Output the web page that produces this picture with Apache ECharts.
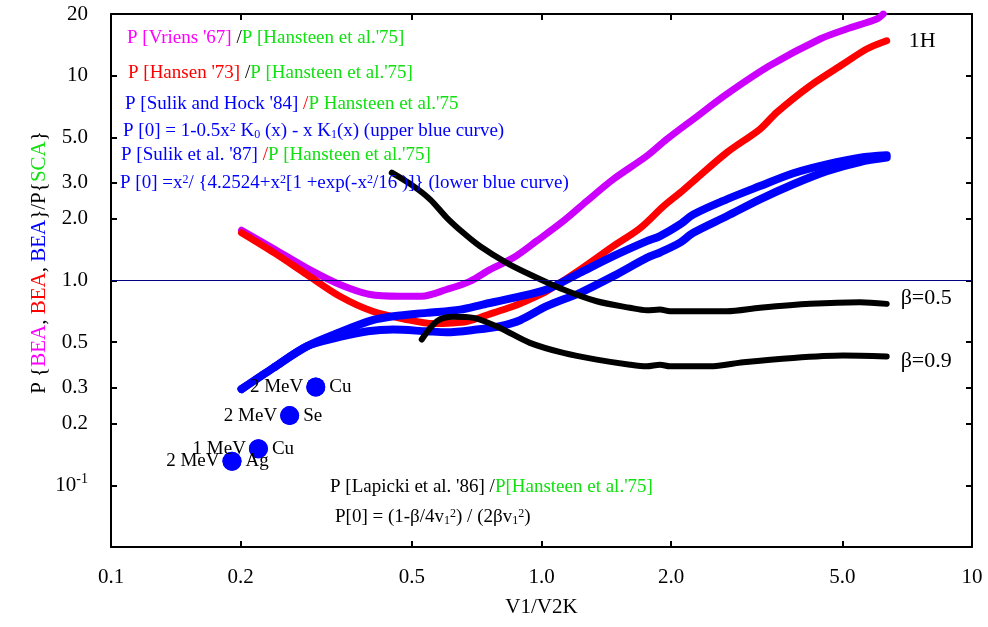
<!DOCTYPE html>
<html>
<head>
<meta charset="utf-8">
<title>P{BEA}/P{SCA} vs V1/V2K</title>
<script src="https://cdn.jsdelivr.net/npm/echarts@6/dist/echarts.min.js"></script>
<style>
  html, body { margin: 0; padding: 0; background: #fff; }
  #chart { width: 988px; height: 627px; }
</style>
</head>
<body>
<div id="chart"></div>
<script>
  // tick positions and their labels
  var xTicks = [0.1, 0.2, 0.5, 1, 2, 5, 10];
  var xTickText = ['0.1', '0.2', '0.5', '1.0', '2.0', '5.0', '10'];
  var yTicks = [0.1, 0.2, 0.3, 0.5, 1, 2, 3, 5, 10, 20];
  var yTickText = ['{n|10}{s|-1}', '0.2', '0.3', '0.5', '1.0', '2.0', '3.0', '5.0', '10', '20'];

  // curves: [V1/V2K, ratio]
  var vriens = [[0.201, 1.76], [0.240, 1.42], [0.285, 1.15], [0.340, 0.956], [0.400, 0.854], [0.469, 0.838],
    [0.527, 0.838], [0.602, 0.904], [0.682, 0.99], [0.759, 1.13], [0.860, 1.29], [0.975, 1.56], [1.124, 1.95],
    [1.274, 2.44], [1.468, 3.12], [1.756, 4.05], [1.954, 4.89], [2.252, 6.13], [2.693, 8.12], [3.394, 11.2],
    [4.436, 15.1], [5.115, 16.9], [6.006, 18.9], [6.22, 20]];
  var hansen = [[0.201, 1.71], [0.240, 1.36], [0.285, 1.07], [0.340, 0.838], [0.405, 0.708], [0.486, 0.645],
    [0.561, 0.616], [0.620, 0.62], [0.670, 0.63], [0.720, 0.66], [0.773, 0.695], [0.860, 0.749], [0.940, 0.81],
    [1.028, 0.887], [1.229, 1.13], [1.468, 1.47], [1.694, 1.80], [1.919, 2.30], [2.098, 2.68], [2.252, 3.05],
    [2.693, 4.21], [3.217, 5.48], [3.518, 6.61], [4.205, 8.92], [5.023, 11.4], [5.693, 13.5], [6.336, 14.8]];
  var sulikHock = [[0.201, 0.295], [0.238, 0.374], [0.285, 0.477], [0.340, 0.559], [0.405, 0.640], [0.453, 0.669],
    [0.541, 0.695], [0.647, 0.721], [0.730, 0.763], [0.860, 0.823], [1.028, 0.904], [1.229, 1.091], [1.468, 1.315],
    [1.756, 1.557], [1.885, 1.647], [2.098, 1.878], [2.252, 2.10], [2.693, 2.49], [3.217, 2.89], [3.845, 3.34],
    [4.598, 3.69], [5.493, 3.98], [6.336, 4.09]];
  var sulik87 = [[0.201, 0.295], [0.238, 0.374], [0.285, 0.477], [0.340, 0.530], [0.395, 0.565], [0.453, 0.576],
    [0.541, 0.565], [0.602, 0.559], [0.707, 0.576], [0.801, 0.598], [0.892, 0.64], [1.028, 0.749], [1.229, 0.871],
    [1.468, 1.05], [1.756, 1.29], [1.885, 1.37], [2.098, 1.53], [2.252, 1.71], [2.693, 2.06], [3.217, 2.49],
    [3.845, 2.95], [4.598, 3.42], [5.493, 3.79], [6.336, 3.98]];
  var beta05 = [[0.449, 3.36], [0.504, 2.89], [0.551, 2.49], [0.602, 2.03], [0.658, 1.71], [0.720, 1.47],
    [0.830, 1.22], [0.940, 1.07], [1.124, 0.904], [1.344, 0.792], [1.605, 0.736], [1.756, 0.716], [1.885, 0.721],
    [1.988, 0.708], [2.693, 0.708], [3.217, 0.736], [4.205, 0.769], [5.493, 0.783], [6.336, 0.769]];
  var beta09 = [[0.527, 0.515], [0.571, 0.632], [0.624, 0.665], [0.695, 0.657], [0.801, 0.587], [0.940, 0.496],
    [1.124, 0.443], [1.344, 0.411], [1.605, 0.388], [1.756, 0.381], [1.885, 0.388], [1.988, 0.381], [2.463, 0.381],
    [2.943, 0.399], [3.845, 0.419], [5.023, 0.430], [6.336, 0.426]];

  // measured points
  var dotPoints = [[0.299, 0.302], [0.260, 0.219], [0.220, 0.151], [0.191, 0.131]];
  var dotEnergy = ['2 MeV', '2 MeV', '1 MeV', '2 MeV'];
  var dotTarget = ['Cu', 'Se', 'Cu', 'Ag'];

  var serif = '"Liberation Serif", "Times New Roman", serif';

  function pick(ticks, texts, v) {
    var best = 0;
    for (var i = 1; i < ticks.length; i++) {
      if (Math.abs(Math.log(ticks[i] / v)) < Math.abs(Math.log(ticks[best] / v))) best = i;
    }
    return texts[best];
  }

  // graphic texts are plain zrender styles, so colours go in "fill"
  function tok(color) {
    return { fill: color, fontFamily: serif, fontSize: 19, lineHeight: 24 };
  }
  function sup(color) {
    return { fill: color, fontFamily: serif, fontSize: 12, lineHeight: 12, verticalAlign: 'top' };
  }
  function sub(color) {
    return { fill: color, fontFamily: serif, fontSize: 12, lineHeight: 12, verticalAlign: 'bottom' };
  }
  var noteRich = {
    m: tok('#ff00ff'), r: tok('#ff0000'), g: tok('#11e011'), b: tok('#0000ff'), k: tok('#000'),
    bp: sup('#0000ff'), bd: sub('#0000ff'), kp: sup('#000'), kd: sub('#000')
  };

  // legend-like notes written on the plot
  function note(x, y, text, fill) {
    return {
      type: 'text', x: x, y: y, z: 20, silent: true,
      style: { text: text, rich: noteRich, fill: fill || '#000', font: '19px ' + serif, verticalAlign: 'middle' }
    };
  }

  function curve(name, data, color, width) {
    return {
      name: name, type: 'line', data: data, symbol: 'none', smooth: 0.3, silent: true,
      lineStyle: { color: color, width: width, cap: 'round', join: 'round' }
    };
  }

  function endText(text, dy, gap) {
    return { show: true, formatter: text, distance: gap, offset: [0, dy], color: '#000', fontFamily: serif, fontSize: 22 };
  }

  var axisLine = { show: true, lineStyle: { color: '#000', width: 2 } };
  var axisTick = { show: true, inside: true, length: 6, lineStyle: { color: '#000', width: 2 } };

  var option = {
    animation: false,
    backgroundColor: '#fff',
    grid: { left: 111, right: 16, top: 14, bottom: 80 },
    xAxis: [{
      type: 'log', logBase: 10, min: 0.1, max: 10, position: 'bottom',
      name: 'V1/V2K', nameLocation: 'middle', nameGap: 50,
      nameTextStyle: { fontFamily: serif, fontSize: 21, color: '#000' },
      axisLine: axisLine,
      axisTick: Object.assign({ customValues: xTicks }, axisTick),
      axisLabel: {
        customValues: xTicks, margin: 20, color: '#000', fontFamily: serif, fontSize: 21,
        formatter: function (v) { return pick(xTicks, xTickText, v); }
      },
      splitLine: { show: false }, minorTick: { show: false }
    }, {
      type: 'log', logBase: 10, min: 0.1, max: 10, position: 'top',
      axisLine: axisLine,
      axisTick: Object.assign({ customValues: xTicks }, axisTick),
      axisLabel: { show: false }, splitLine: { show: false }
    }],
    yAxis: [{
      type: 'log', logBase: 10, min: 0.05, max: 20, position: 'left',
      name: 'P {{m|BEA}, {r|BEA}, {b|BEA}}/P{{g|SCA}}',
      nameLocation: 'middle', nameGap: 61, nameRotate: 90, nameMoveOverlap: false,
      nameTextStyle: {
        fontFamily: serif, fontSize: 21, color: '#000', padding: [0, 0, 0, 36],
        rich: {
          m: { color: '#ff00ff', fontFamily: serif, fontSize: 21 },
          r: { color: '#ff0000', fontFamily: serif, fontSize: 21 },
          b: { color: '#0000ff', fontFamily: serif, fontSize: 21 },
          g: { color: '#11e011', fontFamily: serif, fontSize: 21 }
        }
      },
      axisLine: axisLine,
      axisTick: Object.assign({ customValues: yTicks }, axisTick),
      axisLabel: {
        customValues: yTicks, margin: 23, color: '#000', fontFamily: serif, fontSize: 21,
        formatter: function (v) { return pick(yTicks, yTickText, v); },
        rich: {
          n: { fontFamily: serif, fontSize: 21, color: '#000', lineHeight: 26 },
          s: { fontFamily: serif, fontSize: 14, color: '#000', lineHeight: 14, verticalAlign: 'top' }
        }
      },
      splitLine: { show: false }
    }, {
      type: 'log', logBase: 10, min: 0.05, max: 20, position: 'right',
      axisLine: axisLine,
      axisTick: Object.assign({ customValues: yTicks }, axisTick),
      axisLabel: { show: false }, splitLine: { show: false }
    }],
    series: [
      {
        name: 'unity', type: 'line', data: [], silent: true,
        markLine: {
          silent: true, symbol: 'none', label: { show: false },
          lineStyle: { color: '#000080', width: 1, type: 'solid' },
          data: [{ yAxis: 1 }]
        }
      },
      curve('Vriens', vriens, '#cc00ff', 7),
      Object.assign(curve('Hansen', hansen, '#ff0000', 7), { endLabel: endText('1H', 0, 22) }),
      curve('Sulik and Hock', sulikHock, '#0000ff', 8),
      curve('Sulik 87', sulik87, '#0000ff', 8),
      Object.assign(curve('beta 0.5', beta05, '#000', 6), { endLabel: endText('\u03b2=0.5', -6, 14) }),
      Object.assign(curve('beta 0.9', beta09, '#000', 6), { endLabel: endText('\u03b2=0.9', 5, 14) }),
      {
        name: 'energy', type: 'scatter', data: dotPoints, symbolSize: 19, silent: true, z: 4,
        itemStyle: { color: '#0000ff', opacity: 1 },
        label: {
          show: true, position: 'left', distance: 3, color: '#000', fontFamily: serif, fontSize: 19,
          formatter: function (p) { return dotEnergy[p.dataIndex]; }
        }
      },
      {
        name: 'target', type: 'scatter', data: dotPoints, symbolSize: 19, silent: true, z: 4,
        itemStyle: { color: '#0000ff', opacity: 1 },
        label: {
          show: true, position: 'right', distance: 4, color: '#000', fontFamily: serif, fontSize: 19,
          formatter: function (p) { return dotTarget[p.dataIndex]; }
        }
      }
    ],
    graphic: [
      note(127, 38, "{m|P [Vriens '67] }{k|/}{g|P [Hansteen et al.'75]}"),
      note(128, 73, "{r|P [Hansen '73] }{k|/}{g|P [Hansteen et al.'75]}"),
      note(125, 104, "{b|P [Sulik and Hock '84] }{r|/}{g|P Hansteen et al.'75}"),
      note(123, 131, "P [0] = 1-0.5x{bp|2} K{bd|0} (x) - x K{bd|1}(x) (upper blue curve)", '#0000ff'),
      note(121, 155, "{b|P [Sulik et al. '87] }{r|/}{g|P [Hansteen et al.'75]}"),
      note(120, 183, "P [0] =x{bp|2}/ {4.2524+x{bp|2}[1 +exp(-x{bp|2}/16 )]} (lower blue curve)", '#0000ff'),
      note(330, 487, "P [Lapicki et al. '86] /{g|P[Hansteen et al.'75]}"),
      note(335, 517, "P[0] = (1-\u03b2/4v{kd|1}{kp|2}) / (2\u03b2v{kd|1}{kp|2})")
    ]
  };

  var chart = echarts.init(document.getElementById('chart'));
  chart.setOption(option);
  window.onresize = function () {
    chart.resize();
  };
</script>
</body>
</html>
